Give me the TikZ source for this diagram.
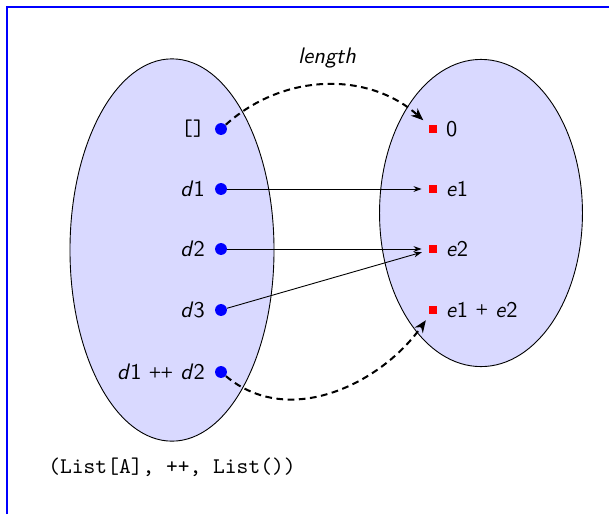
\documentclass[tikz,border=0pt]{standalone}
\usepackage{tikz}
\usetikzlibrary{shapes.geometric,arrows.meta}

\tikzset{
  setbox/.style={ellipse,draw,fill=blue!15,inner sep=0pt},
  dom/.style={circle,fill=blue,inner sep=0pt,minimum size=5.3pt},
  cod/.style={rectangle,fill=red,inner sep=0pt,minimum size=3.8pt},
  hom/.style={-{Stealth[length=3.6pt,width=2.6pt]},thin,shorten >=3pt},
  len/.style={-{Stealth[length=5.5pt,width=4.4pt]},dash pattern=on 3pt off 2pt,line width=0.9pt,shorten >=3pt},
  lab/.style={font=\sffamily,inner sep=0pt}
}
\newcommand{\smallplus}{\raisebox{1.6pt}{\fontsize{6.5}{7}\selectfont\bfseries+}}

\begin{document}
\begin{tikzpicture}[x=0.446pt,y=-0.446pt]
\useasboundingbox (0,0) rectangle (609,514);
\draw[blue,semithick] (7,514) -- (7,7) -- (609,7);

% the two sets
\node[setbox,minimum width=91pt,minimum height=170.5pt] (lists) at (172,250) {};
\node[setbox,minimum width=90.5pt,minimum height=137pt] (nats) at (481,213) {};

% elements of the lists
\foreach \n/\y in {nil/129, da/189, db/249, dc/310, dab/372}
  \node[dom] (\n) at (221,\y) {};
% elements of the image
\foreach \n/\y in {zero/129, ea/189, eb/249, eab/310}
  \node[cod] (\n) at (433,\y) {};

\foreach \n/\lab in {nil/{\texttt{[]}}, da/{\textit{d}1}, db/{\textit{d}2},
    dc/{\textit{d}3}, dab/{\textit{d}1 \smallplus\kern-0.4pt\smallplus{} \textit{d}2}}
  \node[lab,anchor=east] (\n-l) at ([xshift=-4.2pt]\n.west) {\lab};
\foreach \n/\lab in {zero/0, ea/{\textit{e}1}, eb/{\textit{e}2}, eab/{\textit{e}1 \smallplus{} \textit{e}2}}
  \node[lab,anchor=west] (\n-l) at ([xshift=3.5pt]\n.east) {\lab};

\draw[hom] (da) -- (ea);
\draw[hom] (db) -- (eb);
\draw[hom] (dc) -- (eb);

\draw[len] (nil) to[out=42,in=138]
  node[pos=.5,above=7pt,lab] (lenlab) {\textit{length}} (zero);
\draw[len] (dab) to[out=-40,in=-125] (eab);

\node[font=\ttfamily] (monoid) at (172,467) {(List[A], ++, List())};
\end{tikzpicture}
\end{document}
